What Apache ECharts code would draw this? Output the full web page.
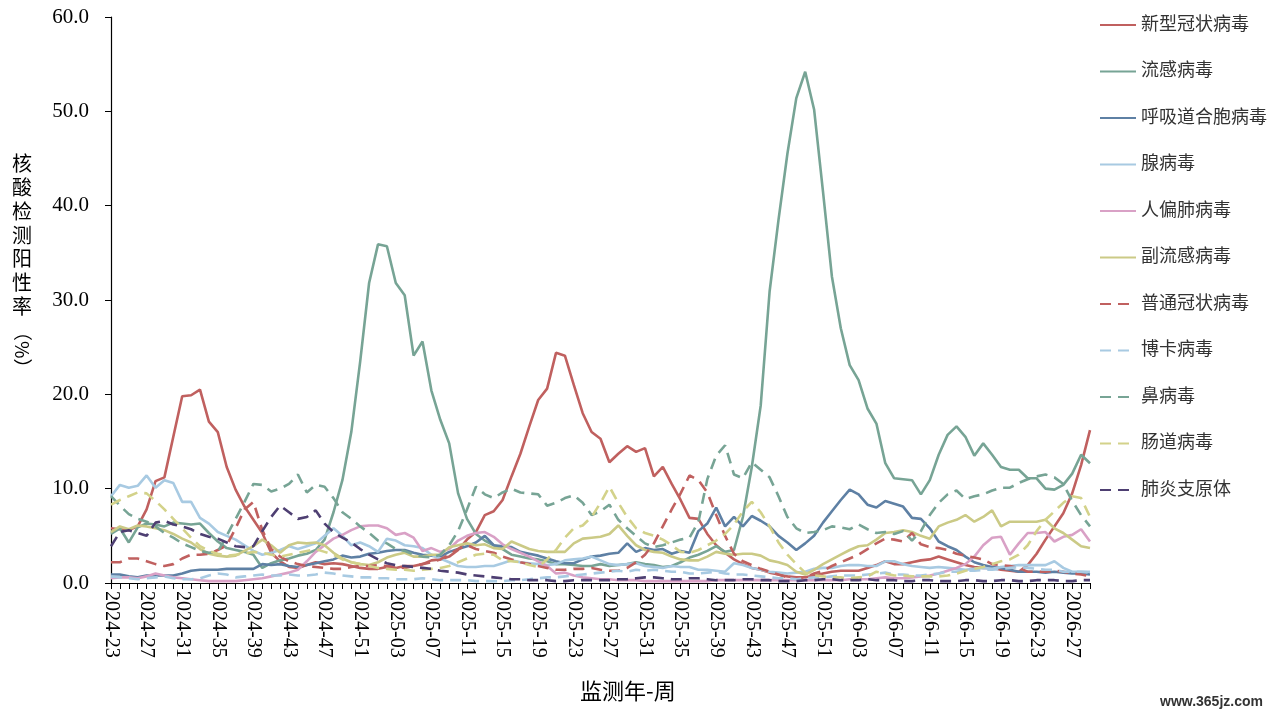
<!DOCTYPE html>
<html>
<head>
<meta charset="utf-8">
<script src="https://cdn.jsdelivr.net/npm/echarts@6/dist/echarts.min.js"></script>
<style>
  html, body { margin: 0; padding: 0; background: #fff; }
  #chart { width: 1280px; height: 720px; }
</style>
</head>
<body>
<div id="chart"></div>
<script>
// 监测周：2024-23 ~ 2026-29
const weekRanges = [
  { year: 2024, from: 23, to: 52 },
  { year: 2025, from: 1, to: 52 },
  { year: 2026, from: 1, to: 29 }
];
const weeks = [];
weekRanges.forEach((r) => {
  for (let w = r.from; w <= r.to; w++) {
    weeks.push(`${r.year}-${String(w).padStart(2, '0')}`);
  }
});

const yTicks = [0, 10, 20, 30, 40, 50, 60];

// 各病原体核酸检测阳性率（%）
const covid = [
  5.8, 5.7, 5.6, 6.0, 7.8, 10.8, 11.2, 15.5, 19.8, 19.9,
  20.5, 17.1, 16.0, 12.3, 9.9, 8.1, 6.7, 5.3, 3.2, 2.3,
  1.7, 1.6, 1.9, 2.2, 2.0, 2.1, 2.0, 1.8, 1.6, 1.5,
  1.5, 1.7, 1.6, 1.8, 1.8, 2.0, 2.4, 2.5, 2.8, 3.5,
  4.6, 5.4, 7.2, 7.6, 8.8, 11.3, 13.7, 16.6, 19.4, 20.6,
  24.4, 24.1, 21.0, 18.0, 16.0, 15.3, 12.8, 13.7, 14.5, 13.9,
  14.3, 11.3, 12.3, 10.5, 8.8, 6.9, 6.8, 5.2, 4.0, 3.2,
  2.5, 2.0, 1.6, 1.4, 1.1, 0.9, 0.7, 0.6, 0.6, 0.8,
  1.0, 1.2, 1.3, 1.3, 1.3, 1.6, 1.9, 2.3, 2.0, 2.0,
  2.2, 2.4, 2.5, 2.8, 2.5, 2.2, 1.9, 1.7, 1.6, 1.6,
  1.4, 1.3, 1.2, 1.9, 3.1, 4.6, 6.0, 7.4, 9.5, 12.5,
  16.2
];
const flu = [
  5.2, 5.8, 4.3, 5.9, 6.3, 6.2, 6.0, 6.4, 6.3, 6.2,
  6.3, 5.3, 4.4, 3.7, 3.5, 3.3, 3.0, 1.6, 2.1, 2.4,
  2.6, 2.9, 3.1, 3.5, 4.6, 7.5, 10.9, 16.0, 23.5, 31.8,
  35.9, 35.7, 31.8, 30.5, 24.1, 25.6, 20.4, 17.3, 14.8, 9.5,
  6.8, 5.2, 4.5, 4.0, 3.6, 3.0, 2.8, 2.6, 2.5, 2.3,
  2.0, 2.0, 1.9, 1.8, 1.8, 2.0, 1.8, 1.9, 2.0, 2.2,
  2.0, 1.9, 1.7, 1.8, 2.2, 2.7, 3.0, 3.4, 3.9, 3.3,
  3.5, 7.0, 12.3, 18.8, 30.9, 38.5, 45.5, 51.4, 54.2, 50.2,
  41.5, 32.5, 27.0, 23.1, 21.5, 18.5, 16.9, 12.7, 11.1, 11.0,
  10.9, 9.4, 10.9, 13.6, 15.7, 16.6, 15.5, 13.5, 14.8, 13.6,
  12.3, 12.0, 12.0, 11.1, 11.1, 10.0, 9.9, 10.4, 11.6, 13.6,
  12.7
];
const rsv = [
  0.9, 0.9, 0.7, 0.6, 0.8, 0.8, 0.8, 0.8, 1.0, 1.3,
  1.4, 1.4, 1.4, 1.5, 1.5, 1.5, 1.5, 2.0, 1.9, 2.0,
  1.8, 1.7, 1.9, 2.1, 2.3, 2.5, 2.9, 2.7, 2.8, 3.1,
  3.2, 3.4, 3.5, 3.5, 3.2, 3.0, 2.9, 2.8, 3.3, 3.6,
  3.9, 4.3, 5.0, 4.0, 3.9, 3.8, 3.3, 3.1, 2.9, 2.6,
  2.3, 2.1, 2.1, 2.5, 2.8, 2.9, 3.1, 3.2, 4.2, 3.3,
  3.7, 3.5, 3.6, 3.1, 3.4, 3.2, 5.5, 6.3, 8.0, 6.0,
  7.0, 6.0, 7.1, 6.6, 6.0, 5.0, 4.3, 3.5, 4.2, 5.0,
  6.4, 7.6, 8.8, 9.9, 9.4, 8.3, 8.0, 8.7, 8.4, 8.1,
  6.9, 6.8, 5.8, 4.4, 3.9, 3.5, 2.8, 2.2, 1.9, 1.7,
  1.6, 1.4, 1.2, 1.2, 1.2, 1.1, 1.2, 1.1, 1.0, 1.0,
  0.9
];
const adeno = [
  9.2, 10.4, 10.1, 10.3, 11.4, 10.1, 10.9, 10.6, 8.6, 8.6,
  6.9, 6.3, 5.4, 5.0, 4.6, 4.0, 3.4, 3.0, 3.2, 3.5,
  3.9, 3.6, 3.9, 4.2, 5.0, 5.8, 5.0, 4.0, 4.3, 3.9,
  3.3, 4.7, 4.5, 4.0, 3.9, 3.7, 3.0, 2.6, 2.2, 1.8,
  1.7, 1.7, 1.8, 1.8, 2.1, 2.4, 2.2, 2.1, 2.0, 1.9,
  2.0, 2.4, 2.5, 2.6, 2.8, 2.4, 2.0, 1.9, 2.0, 2.1,
  1.8, 1.7, 1.6, 1.8, 1.7, 1.7, 1.4, 1.4, 1.3, 1.2,
  2.1, 1.9, 1.6, 1.4, 1.2, 1.1, 1.0, 1.1, 1.2, 1.5,
  1.6, 1.6, 1.8, 1.9, 1.9, 1.8, 1.8, 2.3, 2.3, 2.0,
  1.8, 1.7, 1.6, 1.7, 1.6, 1.5, 1.4, 1.5, 1.6, 1.5,
  1.7, 1.8, 1.9, 1.9, 1.9, 1.9, 2.3, 1.6, 1.2, 1.2,
  1.2
];
const hmpv = [
  0.5, 0.6, 0.6, 0.5, 0.7, 1.0, 0.8, 0.6, 0.5, 0.4,
  0.3, 0.2, 0.2, 0.2, 0.2, 0.3, 0.4, 0.5, 0.7, 0.9,
  1.1, 1.4, 2.3, 3.3, 4.0, 4.7, 5.1, 5.6, 6.0, 6.1,
  6.1, 5.8, 5.1, 5.3, 4.8, 3.4, 3.7, 3.3, 3.6, 4.5,
  5.0, 5.3, 5.4, 4.9, 4.1, 3.6, 3.2, 2.8, 2.3, 1.8,
  1.0, 1.1, 0.8, 0.6, 0.5, 0.4, 0.4, 0.3, 0.3, 0.3,
  0.2, 0.2, 0.2, 0.2, 0.2, 0.2, 0.2, 0.2, 0.3, 0.3,
  0.3, 0.3, 0.3, 0.3, 0.3, 0.3, 0.3, 0.3, 0.3, 0.3,
  0.3, 0.3, 0.3, 0.4, 0.4, 0.4, 0.5, 0.6, 0.5, 0.5,
  0.6, 0.7, 0.8, 1.0, 1.3, 1.6, 2.0, 2.8, 4.0, 4.8,
  4.9, 3.0, 4.2, 5.3, 5.3, 5.4, 4.4, 4.9, 5.1, 5.7,
  4.4
];
const paraflu = [
  5.4, 6.0, 5.7, 6.1, 6.0, 5.8, 5.6, 5.2, 4.7, 4.3,
  3.6, 3.1, 2.9, 2.8, 2.9, 3.4, 3.9, 4.6, 4.0, 3.2,
  4.0, 4.3, 4.2, 4.3, 4.0, 3.2, 2.6, 2.2, 2.0, 1.9,
  2.2, 2.7, 3.0, 3.2, 2.8, 2.8, 3.0, 3.0, 3.8, 4.0,
  4.2, 4.0, 4.1, 3.7, 3.6, 4.4, 4.0, 3.6, 3.4, 3.3,
  3.3, 3.3, 4.2, 4.7, 4.8, 4.9, 5.2, 6.1, 5.0, 4.0,
  3.5, 3.3, 3.2, 2.8, 2.5, 2.4, 2.4, 2.8, 3.3, 3.1,
  3.0, 3.1, 3.1, 2.9, 2.4, 2.2, 1.9, 1.2, 0.9, 1.4,
  2.0, 2.5, 3.0, 3.5, 3.9, 4.0, 4.6, 5.3, 5.4, 5.6,
  5.4, 5.0, 4.7, 6.0, 6.4, 6.7, 7.2, 6.5, 7.0, 7.7,
  6.0, 6.5, 6.5, 6.5, 6.5, 6.7, 5.8, 5.3, 4.6, 3.9,
  3.7
];
const hcov = [
  2.2, 2.2, 2.6, 2.6, 2.3, 2.0, 1.8, 2.0, 2.6, 3.0,
  3.0, 3.1, 3.5, 4.0, 5.8, 7.8, 8.6, 5.6, 3.6, 2.8,
  2.3, 2.0, 1.8, 1.7, 1.6, 1.5, 1.5, 1.7, 1.8, 1.8,
  1.9, 1.8, 1.7, 1.6, 1.8, 2.0, 2.2, 2.5, 3.0, 3.6,
  4.0, 3.6, 3.4, 3.2, 2.8, 2.5, 2.2, 2.0, 1.8, 1.6,
  1.4, 1.4, 1.5, 1.5, 1.6, 1.4, 1.3, 1.3, 1.6, 2.2,
  3.0, 4.2, 6.0, 7.8, 9.5, 11.4, 10.9, 9.6, 7.2, 5.0,
  3.1, 2.3, 1.9, 1.5, 1.2, 0.9, 0.6, 0.5, 0.6, 1.0,
  1.3, 1.8, 2.2, 2.6, 3.0, 3.6, 4.2, 4.7, 4.6, 4.4,
  5.3, 4.1, 3.8, 3.7, 3.5, 3.1, 2.9, 2.7, 2.5, 2.0,
  1.9, 1.8, 1.6, 1.2, 1.2, 1.2, 1.3, 1.2, 1.0, 0.9,
  0.7
];
const boca = [
  0.7, 0.6, 0.5, 0.4, 0.5, 0.6, 0.7, 0.5, 0.4, 0.4,
  0.5, 0.8, 1.0, 0.9, 0.6, 0.7, 0.8, 0.9, 0.8, 0.8,
  0.9, 0.8, 0.8, 0.9, 1.1, 1.0, 0.8, 0.7, 0.6, 0.6,
  0.5, 0.5, 0.4, 0.4, 0.4, 0.5, 0.4, 0.3, 0.3, 0.3,
  0.3, 0.2, 0.2, 0.2, 0.2, 0.3, 0.3, 0.4, 0.5, 0.6,
  0.6, 0.7, 0.8, 0.9, 1.0, 1.1, 1.2, 1.3, 1.2, 1.4,
  1.3, 1.4, 1.3, 1.2, 1.2, 1.0, 1.0, 1.1, 1.2, 1.0,
  0.9, 0.9, 0.8, 0.7, 0.6, 0.5, 0.5, 0.4, 0.5, 0.6,
  0.6, 0.7, 0.8, 0.8, 0.8, 0.9, 1.0, 1.1, 0.9, 0.9,
  0.8, 0.8, 0.9, 1.0, 1.2, 1.2, 1.3, 1.3, 1.4, 1.4,
  1.5, 1.6, 1.7, 1.6, 1.5, 1.4, 1.4, 1.2, 1.2, 1.2,
  1.1
];
const rhino = [
  9.2, 8.2, 7.3, 6.8, 6.5, 6.0, 5.3, 4.8, 4.2, 3.8,
  3.4, 3.2, 3.3, 5.0, 6.8, 8.6, 10.5, 10.4, 9.7, 10.0,
  10.5, 11.5, 9.6, 10.4, 10.2, 9.0, 7.5, 6.8, 6.0, 5.3,
  4.5, 4.2, 3.6, 3.4, 3.0, 2.8, 2.7, 3.0, 4.0, 5.5,
  7.8, 10.2, 9.4, 9.0, 9.6, 10.0, 9.6, 9.5, 9.4, 8.2,
  8.5, 9.0, 9.3, 8.5, 7.2, 7.6, 8.3, 6.7, 5.8, 5.0,
  4.2, 3.8, 4.0, 4.3, 4.6, 4.8, 6.5, 11.0, 13.5, 14.6,
  11.5, 11.1, 12.8, 12.0, 11.2, 9.2, 7.0, 5.8, 5.3, 5.4,
  5.6, 6.0, 5.9, 5.7, 6.2, 5.7, 5.3, 5.4, 5.2, 5.5,
  4.5, 5.5, 7.2, 8.5, 9.4, 9.8, 8.9, 9.2, 9.4, 9.8,
  10.1, 10.1, 10.6, 11.0, 11.3, 11.5, 11.2, 10.5, 8.7, 7.2,
  6.0
];
const entero = [
  8.3, 8.8, 9.2, 9.6, 9.5, 8.7, 7.8, 6.8, 5.8, 4.8,
  3.9, 3.4, 3.1, 2.9, 3.0, 3.1, 3.3, 3.2, 3.0, 2.8,
  3.0, 3.2, 3.4, 3.6, 3.3, 3.0, 2.5, 2.2, 2.0, 1.8,
  1.6, 1.5, 1.4, 1.4, 1.3, 1.4, 1.5, 1.6, 1.8, 2.2,
  2.6, 3.0, 3.1, 3.0, 2.4, 2.3, 2.2, 1.9, 1.7, 2.5,
  3.5, 4.8, 5.8, 6.1, 7.0, 8.5, 10.2, 8.5, 7.0, 5.8,
  5.3, 5.0, 4.6, 4.0, 3.3, 3.2, 3.5, 4.0, 4.5, 5.2,
  6.2, 7.6, 8.6, 7.5, 6.0, 4.3, 3.0, 2.0, 1.1, 0.8,
  0.7, 0.6, 0.6, 0.5, 0.6, 0.7, 1.2, 1.0, 0.8, 0.8,
  0.7, 0.7, 0.7, 0.7, 0.8, 1.0, 1.3, 1.5, 1.7, 2.0,
  2.3, 2.5, 3.0, 4.0, 5.5, 6.7, 7.6, 8.5, 9.2, 9.0,
  7.0
];
const myco = [
  3.9, 5.4, 5.6, 5.3, 5.0, 6.4, 6.6, 6.2, 6.0, 5.7,
  5.2, 4.9, 4.7, 4.3, 3.9, 3.8, 3.9, 5.5, 7.0, 8.2,
  7.5, 6.8, 7.0, 7.7, 6.3, 5.4, 4.8, 4.3, 3.6, 3.0,
  2.5, 2.1, 1.9, 1.8, 1.7, 1.6, 1.5, 1.3, 1.2, 1.1,
  0.9, 0.8, 0.7, 0.6, 0.5, 0.4, 0.4, 0.3, 0.3, 0.3,
  0.2, 0.2, 0.3, 0.3, 0.3, 0.3, 0.3, 0.4, 0.4, 0.5,
  0.6, 0.6, 0.5, 0.4, 0.4, 0.5, 0.5, 0.4, 0.3, 0.3,
  0.3, 0.4, 0.4, 0.3, 0.3, 0.2, 0.2, 0.2, 0.3, 0.3,
  0.4, 0.4, 0.3, 0.3, 0.3, 0.4, 0.3, 0.3, 0.3, 0.2,
  0.2, 0.3, 0.3, 0.2, 0.2, 0.2, 0.3, 0.3, 0.2, 0.2,
  0.3, 0.3, 0.2, 0.2, 0.3, 0.3, 0.3, 0.2, 0.2, 0.3,
  0.3
];

const serif = "'Liberation Serif', 'Times New Roman', 'Noto Sans CJK SC', serif";
const dash = [11, 7];

function line(name, data, color, dashed) {
  return {
    name,
    type: 'line',
    data,
    symbol: 'none',
    showSymbol: false,
    smooth: false,
    lineStyle: { color, width: 2.6, type: dashed ? dash : 'solid' },
    itemStyle: { color }
  };
}

const chart = echarts.init(document.getElementById('chart'));
chart.setOption({
  animation: false,
  backgroundColor: '#fff',
  grid: { left: 111, right: 190, top: 17, bottom: 137, containLabel: false },
  legend: {
    orient: 'vertical',
    left: 1099,
    top: 16,
    padding: 0,
    itemWidth: 36,
    itemHeight: 14,
    itemGap: 28.5,
    // 只画线，不画圆点
    itemStyle: { opacity: 0 },
    textStyle: { fontFamily: serif, fontSize: 18, color: '#333' },
    data: ['新型冠状病毒', '流感病毒', '呼吸道合胞病毒', '腺病毒', '人偏肺病毒', '副流感病毒',
      '普通冠状病毒', '博卡病毒', '鼻病毒', '肠道病毒', '肺炎支原体']
  },
  xAxis: {
    type: 'category',
    data: weeks,
    boundaryGap: false,
    axisLine: { lineStyle: { color: '#000', width: 1.2 } },
    axisTick: { show: true, interval: 0, length: 6, lineStyle: { color: '#000' } },
    axisLabel: {
      interval: 3,
      rotate: -90,
      margin: 8,
      color: '#000',
      fontFamily: serif,
      fontSize: 20
    },
    splitLine: { show: false }
  },
  yAxis: {
    type: 'value',
    min: yTicks[0],
    max: yTicks[yTicks.length - 1],
    interval: 10,
    axisLine: { show: true, lineStyle: { color: '#000', width: 1.2 } },
    axisTick: { show: true, length: 6, lineStyle: { color: '#000' } },
    axisLabel: {
      margin: 22,
      color: '#000',
      fontFamily: serif,
      fontSize: 21,
      formatter: (v) => v.toFixed(1)
    },
    splitLine: { show: false }
  },
  graphic: [
    {
      type: 'text',
      left: 12,
      top: 152,
      style: {
        text: '核\n酸\n检\n测\n阳\n性\n率',
        font: "20px 'Noto Sans CJK SC'",
        lineHeight: 23.7,
        fill: '#000'
      }
    },
    {
      type: 'text',
      x: 32,
      y: 322,
      rotation: -Math.PI / 2,
      style: { text: '（%）', font: "19px 'Noto Sans CJK SC'", fill: '#000' }
    },
    {
      type: 'text',
      left: 580,
      top: 680,
      style: { text: '监测年-周', font: "22px 'Noto Sans CJK SC'", fill: '#000' }
    },
    {
      type: 'text',
      left: 1160,
      top: 695,
      style: { text: 'www.365jz.com', font: "bold 14px 'Liberation Sans'", fill: '#333' }
    }
  ],
  series: [
    line('新型冠状病毒', covid, '#C0605F', false),
    line('流感病毒', flu, '#77A495', false),
    line('呼吸道合胞病毒', rsv, '#5E80A4', false),
    line('腺病毒', adeno, '#A8CAE2', false),
    line('人偏肺病毒', hmpv, '#D9A1C6', false),
    line('副流感病毒', paraflu, '#CBCA86', false),
    line('普通冠状病毒', hcov, '#C0605F', true),
    line('博卡病毒', boca, '#A8CAE2', true),
    line('鼻病毒', rhino, '#77A495', true),
    line('肠道病毒', entero, '#D3D28A', true),
    line('肺炎支原体', myco, '#4E3F72', true)
  ]
});
</script>
</body>
</html>
